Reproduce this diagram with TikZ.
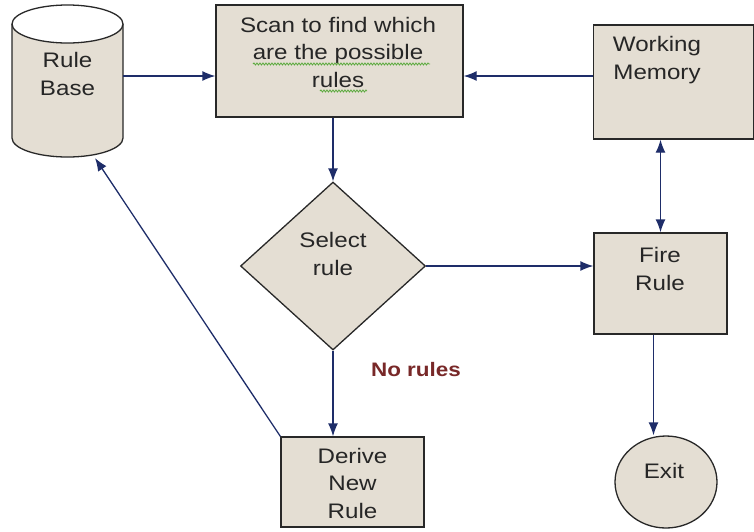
\documentclass[tikz,border=0pt]{standalone}
\usepackage{fontspec}
\setmainfont{Liberation Sans}[FakeStretch=1.15]
\usetikzlibrary{shapes.geometric,arrows.meta,decorations.pathmorphing}
\definecolor{boxfill}{RGB}{228,222,211}
\definecolor{edgec}{RGB}{40,40,40}
\definecolor{arrowc}{RGB}{30,45,105}
\definecolor{norulec}{RGB}{120,40,40}
\definecolor{squig}{RGB}{90,170,60}
\begin{document}
\begin{tikzpicture}[x=1pt,y=-1pt,
  shapebox/.style={draw=edgec, fill=boxfill, line width=1.3pt, inner sep=0pt},
  txt/.style={font=\fontsize{21}{27.5}\selectfont, text=black!85, align=center, inner sep=0pt},
  arr/.style={draw=arrowc, line width=1.3pt, -{Latex[length=13pt,width=10pt]}},
  darr/.style={draw=arrowc, line width=1.3pt, {Latex[length=13pt,width=10pt]}-{Latex[length=13pt,width=10pt]}},
  squiggle/.style={draw=squig, line width=0.8pt, decorate, decoration={snake, amplitude=1pt, segment length=3pt}},
]
\useasboundingbox (0,0) rectangle (754,531);
% Rule Base cylinder
\draw[shapebox] (12,24) -- (12,138) arc[start angle=180, end angle=0, x radius=55.5, y radius=19] -- (123,24);
\draw[draw=edgec, fill=white, line width=1.3pt] (67.5,24) ellipse [x radius=55.5, y radius=19];
\node[minimum width=111pt, minimum height=152pt, inner sep=0pt] (rb) at (67.5,81) {};
\node[txt] (rbt) at (67.5,74) {Rule\\Base};
\coordinate (rbin) at (95,158);
% Scan box
\node[shapebox, minimum width=247pt, minimum height=112pt] (scan) at (339.5,61) {};
\node[txt] (scant) at (338,52) {Scan to find which\\are the possible\\rules};
\draw[squiggle] (253,64) -- (430,64);
\draw[squiggle] (320,91) -- (367,91);
% Working Memory
\node[shapebox, minimum width=160pt, minimum height=114pt] (wm) at (673.5,82) {};
\node[txt] (wmt) at (657,60) {Working\\Memory};
% Select rule diamond
\node[shapebox, diamond, minimum width=185pt, minimum height=168pt] (dia) at (333,266) {};
\node[txt] (diat) at (333,254) {Select\\rule};
% Fire Rule
\node[shapebox, minimum width=133pt, minimum height=101pt] (fire) at (660.5,283.5) {};
\node[txt] (firet) at (660,269) {Fire\\Rule};
% Exit
\node[shapebox, ellipse, minimum width=102pt, minimum height=92pt] (exit) at (666,482) {};
\node[txt] (exitt) at (664,471) {Exit};
% Derive New Rule
\node[shapebox, minimum width=143pt, minimum height=90pt] (derive) at (352.5,482) {};
\node[txt] (derivet) at (352.5,483) {Derive\\New\\Rule};
% No rules label
\node[font=\fontsize{19.5}{24}\selectfont\bfseries, text=norulec, inner sep=0pt] (norules) at (416,370) {No rules};
% connectors
\draw[arr] (rb.east |- 0,76) -- (scan.west |- 0,76);
\draw[arr] (wm.west |- 0,76) -- (scan.east |- 0,76);
\draw[arr] (dia.north |- scan.south) -- (dia.north);
\draw[arr] (dia.east) -- (fire.west |- dia.east);
\draw[darr] (fire.north) -- (fire.north |- wm.south);
\draw[arr] ([xshift=-7pt]fire.south) -- ([xshift=-7pt]fire.south |- exit.north);
\draw[arr] (dia.south) -- (dia.south |- derive.north);
\draw[arr] (derive.north west) -- (rbin);
\end{tikzpicture}
\end{document}
